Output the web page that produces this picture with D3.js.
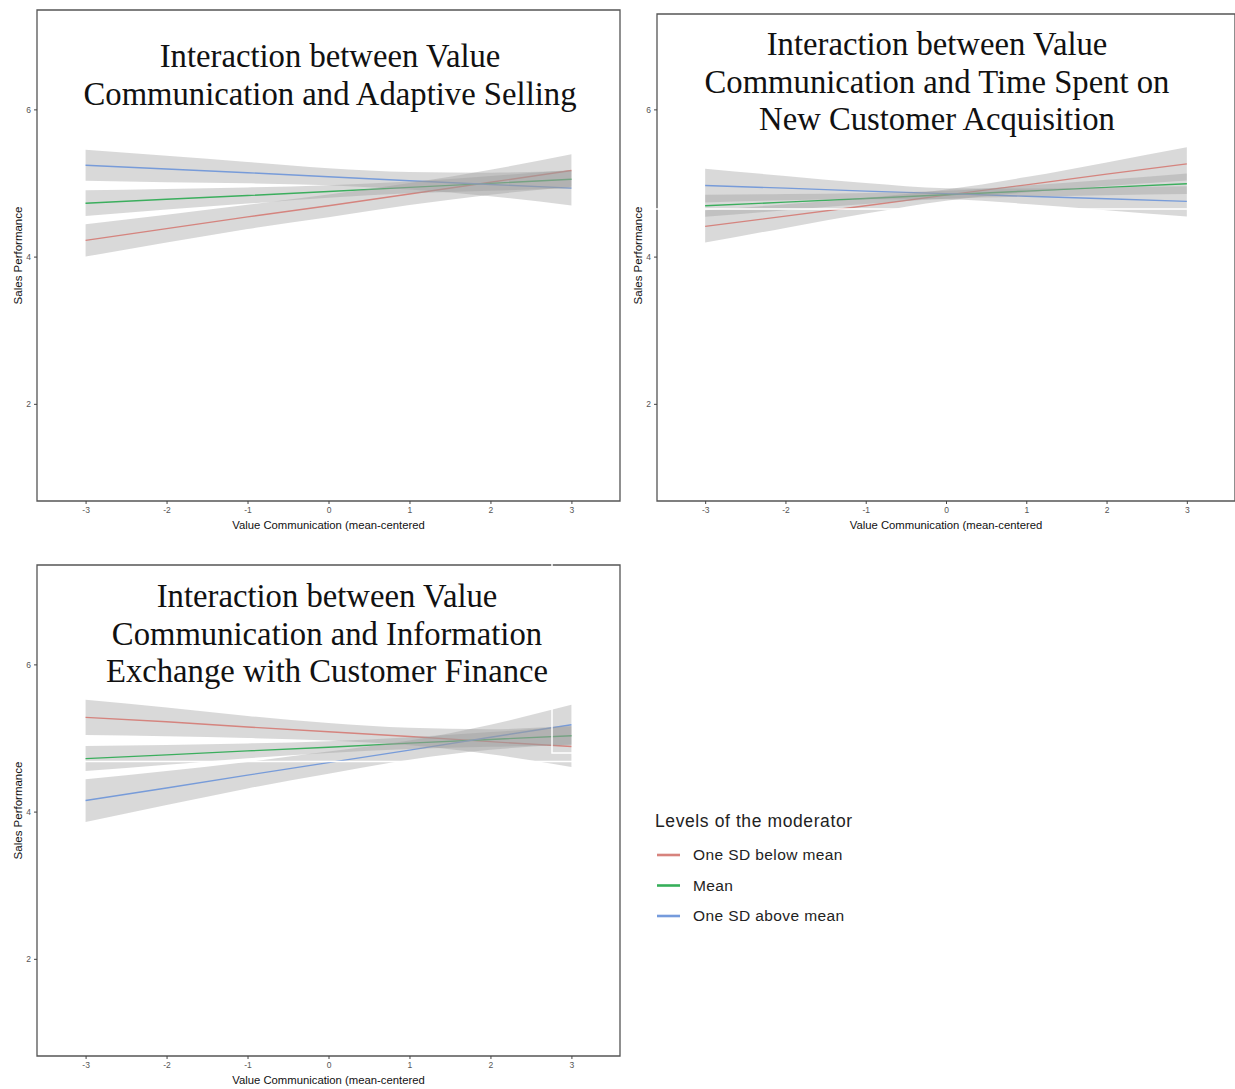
<!DOCTYPE html>
<html>
<head>
<meta charset="utf-8">
<script src="https://cdn.jsdelivr.net/npm/d3@7"></script>
<style>
  body { margin: 0; background: #fff; }
  svg { display: block; }
  .tick text { fill: #555; font-family: 'Liberation Sans', Arial, sans-serif; font-size: 8.5px; }
  .tick line { stroke: #444; }
  .domain { display: none; }
</style>
</head>
<body>
<div id="chart"></div>
<script>
// moderator levels
const levels = ['One SD below mean', 'Mean', 'One SD above mean'];
const levelColors = ['#f8766d', '#00ba38', '#619cff'];

const xValues = [-3, -2, -1, 0, 1, 2, 3];
const xTicks = [-3, -2, -1, 0, 1, 2, 3];
const yTicks = [2, 4, 6];

// panel 1: adaptive selling  (rows: below, mean, above)
const adaptiveTitle = ['Interaction between Value', 'Communication and Adaptive Selling'];
const adaptiveFit = [
  [4.22, 4.38, 4.54, 4.69, 4.85, 5.01, 5.17],
  [4.725, 4.78, 4.83, 4.885, 4.94, 4.995, 5.05],
  [5.24, 5.19, 5.14, 5.085, 5.03, 4.98, 4.93]
];
const adaptiveLow = [
  [4.00, 4.19, 4.375, 4.535, 4.70, 4.84, 4.95],
  [4.55, 4.64, 4.72, 4.80, 4.86, 4.895, 4.925],
  [5.03, 5.01, 4.995, 4.97, 4.91, 4.82, 4.695]
];
const adaptiveHigh = [
  [4.44, 4.57, 4.705, 4.845, 5.00, 5.18, 5.39],
  [4.90, 4.92, 4.94, 4.97, 5.02, 5.095, 5.175],
  [5.45, 5.37, 5.285, 5.20, 5.15, 5.14, 5.165]
];

// panel 2: time spent on new customer acquisition
const timeTitle = ['Interaction between Value', 'Communication and Time Spent on', 'New Customer Acquisition'];
const timeFit = [
  [4.41, 4.55, 4.69, 4.835, 4.975, 5.12, 5.26],
  [4.69, 4.74, 4.79, 4.84, 4.89, 4.94, 4.99],
  [4.965, 4.93, 4.89, 4.855, 4.82, 4.785, 4.75]
];
const timeLow = [
  [4.19, 4.39, 4.585, 4.76, 4.87, 4.96, 5.035],
  [4.54, 4.63, 4.715, 4.785, 4.815, 4.835, 4.85],
  [4.735, 4.765, 4.78, 4.78, 4.715, 4.63, 4.545]
];
const timeHigh = [
  [4.63, 4.71, 4.795, 4.91, 5.08, 5.28, 5.485],
  [4.84, 4.85, 4.865, 4.895, 4.965, 5.045, 5.13],
  [5.195, 5.095, 5.00, 4.93, 4.925, 4.94, 4.955]
];

// panel 3: information exchange with customer finance
const financeTitle = ['Interaction between Value', 'Communication and Information', 'Exchange with Customer Finance'];
const financeFit = [
  [5.28, 5.22, 5.15, 5.085, 5.02, 4.95, 4.885],
  [4.72, 4.77, 4.825, 4.875, 4.93, 4.98, 5.03],
  [4.15, 4.32, 4.495, 4.665, 4.835, 5.01, 5.18]
];
const financeLow = [
  [5.04, 5.025, 5.00, 4.965, 4.90, 4.78, 4.605],
  [4.55, 4.635, 4.725, 4.795, 4.85, 4.88, 4.90],
  [3.86, 4.09, 4.315, 4.515, 4.705, 4.84, 4.91]
];
const financeHigh = [
  [5.52, 5.415, 5.30, 5.205, 5.14, 5.12, 5.165],
  [4.89, 4.905, 4.925, 4.955, 5.01, 5.08, 5.16],
  [4.44, 4.55, 4.675, 4.815, 4.965, 5.18, 5.45]
];

const width = 1235;
const height = 1089;
const sans = "'Liberation Sans', Arial, sans-serif";

const svg = d3.select('#chart')
  .append('svg')
  .attr('width', width)
  .attr('height', height);

const panels = [
  { left: 37, right: 620, top: 10, bottom: 501, frameTop: 10, titleX: 330, titleY: 67,
    title: adaptiveTitle, fit: adaptiveFit, low: adaptiveLow, high: adaptiveHigh },
  { left: 657, right: 1235, top: 10, bottom: 501, frameTop: 14, titleX: 937, titleY: 55,
    title: timeTitle, fit: timeFit, low: timeLow, high: timeHigh },
  { left: 37, right: 620, top: 565, bottom: 1056, frameTop: 565, titleX: 327, titleY: 607,
    title: financeTitle, fit: financeFit, low: financeLow, high: financeHigh }
];

panels.forEach(drawPanel);

function drawPanel(p) {
  const g = svg.append('g');

  const xScale = d3.scaleLinear().domain([-3.6, 3.6]).range([p.left, p.right]);
  const yScale = d3.scaleLinear().domain([0.68, 7.35]).range([p.bottom, p.top]);

  const line = d3.line()
    .x((d, i) => xScale(xValues[i]))
    .y(d => yScale(d));

  const band = d3.area()
    .x((d, i) => xScale(xValues[i]))
    .y0(d => yScale(d[0]))
    .y1(d => yScale(d[1]))
    .curve(d3.curveMonotoneX);

  // lines go under the ribbons, like the original plot
  p.fit.forEach((vals, k) => {
    g.append('path')
      .attr('d', line(vals))
      .attr('fill', 'none')
      .attr('stroke', levelColors[k])
      .attr('stroke-width', 1.4);
  });

  p.fit.forEach((vals, k) => {
    const pairs = p.low[k].map((lo, i) => [lo, p.high[k][i]]);
    g.append('path')
      .attr('d', band(pairs))
      .attr('fill', '#9a9a9a')
      .attr('fill-opacity', 0.38);
  });

  // frame
  g.append('path')
    .attr('d', `M${p.left},${p.frameTop}H${p.right}V${p.bottom}H${p.left}Z`)
    .attr('fill', 'none')
    .attr('stroke', '#555')
    .attr('stroke-width', 1.3);

  g.append('g')
    .attr('transform', `translate(0, ${p.bottom})`)
    .call(d3.axisBottom(xScale).tickValues(xTicks).tickSize(3).tickPadding(3)
      .tickFormat(d => String(d)));

  g.append('g')
    .attr('transform', `translate(${p.left}, 0)`)
    .call(d3.axisLeft(yScale).tickValues(yTicks).tickSize(3).tickPadding(3)
      .tickFormat(d => String(d)));

  g.append('text')
    .attr('x', xScale(0))
    .attr('y', p.bottom + 28)
    .style('text-anchor', 'middle')
    .style('font-family', sans)
    .style('font-size', '11.3px')
    .style('fill', '#111')
    .text('Value Communication (mean-centered');

  g.append('text')
    .attr('transform', 'rotate(-90)')
    .attr('x', -(p.top + p.bottom) / 2)
    .attr('y', p.left - 15)
    .style('text-anchor', 'middle')
    .style('font-family', sans)
    .style('font-size', '11.5px')
    .style('fill', '#111')
    .text('Sales Performance');

  const title = g.append('text')
    .style('text-anchor', 'middle')
    .style('font-family', "'Liberation Serif', 'Times New Roman', serif")
    .style('font-size', '32.7px')
    .style('fill', '#111');
  p.title.forEach((t, i) => {
    title.append('tspan')
      .attr('x', p.titleX)
      .attr('y', p.titleY + i * 37.5)
      .text(t);
  });
}

// scan artifacts in the original picture
svg.append('line').attr('x1', 652).attr('x2', 1190).attr('y1', 209).attr('y2', 209)
  .attr('stroke', '#fff').attr('stroke-width', 1.5);
svg.append('line').attr('x1', 85).attr('x2', 574).attr('y1', 761.5).attr('y2', 761.5)
  .attr('stroke', '#fff').attr('stroke-width', 1.5);
svg.append('path').attr('d', 'M552,563V753H574')
  .attr('fill', 'none').attr('stroke', '#fff').attr('stroke-width', 1.5);

// legend
const legend = svg.append('g').attr('transform', 'translate(655, 0)');
legend.append('text')
  .attr('x', 0).attr('y', 827)
  .style('font-family', sans)
  .style('font-size', '17.5px')
  .style('letter-spacing', '0.6px')
  .style('fill', '#222')
  .text('Levels of the moderator');

levels.forEach((name, k) => {
  const yy = 855 + k * 30.5;
  legend.append('line')
    .attr('x1', 2).attr('x2', 25).attr('y1', yy).attr('y2', yy)
    .attr('stroke', d3.interpolateRgb(levelColors[k], '#9a9a9a')(0.35))
    .attr('stroke-width', 2.6);
  legend.append('text')
    .attr('x', 38).attr('y', yy + 5)
    .style('font-family', sans)
    .style('font-size', '15.5px')
    .style('letter-spacing', '0.4px')
    .style('fill', '#222')
    .text(name);
});
</script>
</body>
</html>
